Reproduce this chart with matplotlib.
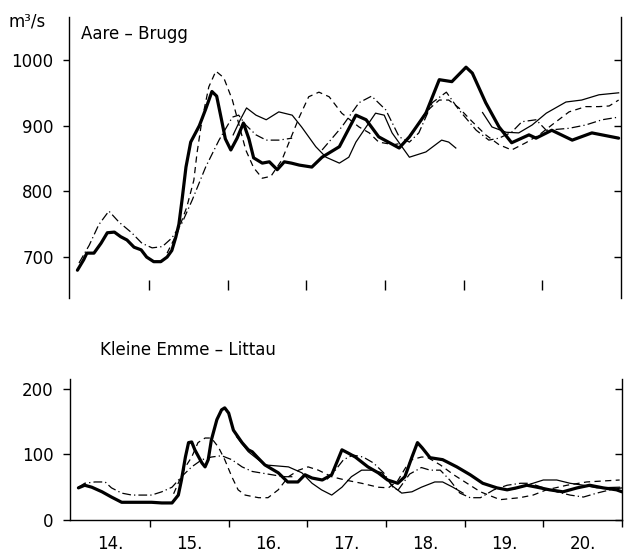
import numpy as np
import matplotlib
matplotlib.use("Agg")
import matplotlib.pyplot as plt

# ---- Aare - Brugg (m3/s), day of month ----
aare_obs_d = [14.09, 14.17, 14.21, 14.30, 14.39, 14.47, 14.56, 14.64, 14.72, 14.81, 14.90, 14.97,
              15.06, 15.15, 15.23, 15.29, 15.34, 15.38, 15.42, 15.47, 15.53, 15.64, 15.72, 15.80,
              15.86, 15.92, 15.97, 16.04, 16.12, 16.20, 16.27, 16.33, 16.44, 16.53, 16.63, 16.72,
              16.81, 16.91, 17.07, 17.20, 17.42, 17.63, 17.76, 17.92, 18.18, 18.31, 18.52, 18.69,
              18.85, 19.03, 19.11, 19.28, 19.45, 19.61, 19.83, 19.92, 20.12, 20.38, 20.63, 20.97]
aare_obs_q = [680, 696, 706, 706, 721, 737, 738, 731, 726, 715, 711, 700,
              693, 693, 700, 710, 730, 750, 787, 837, 875, 900, 925, 952,
              945, 910, 880, 863, 881, 904, 880, 851, 843, 845, 833, 845,
              843, 840, 837, 852, 868, 916, 909, 883, 866, 883, 919, 970,
              967, 989, 980, 935, 898, 874, 886, 881, 893, 878, 889, 881]

aare_thin_d = [16.07, 16.16, 16.24, 16.36, 16.49, 16.65, 16.82, 16.94, 17.12, 17.25, 17.42, 17.54,
               17.63, 17.76, 17.88, 17.99, 18.09, 18.31, 18.52, 18.72, 18.81, 18.90,
               np.nan,
               19.24, 19.36, 19.54, 19.70, 19.87, 20.05, 20.30, 20.50, 20.72, 20.97]
aare_thin_q = [886, 909, 927, 916, 909, 921, 916, 898, 868, 852, 843, 852,
               875, 898, 919, 916, 889, 852, 860, 878, 875, 866,
               np.nan,
               920, 898, 890, 889, 901, 919, 936, 939, 947, 950]

aare_dash_d = [15.23, 15.36, 15.48, 15.57, 15.61, 15.66, 15.70, 15.76, 15.85, 15.95, 16.06, 16.23,
               16.33, 16.44, 16.55, 16.69, 16.91, 17.03, 17.16, 17.29, 17.45, 17.67, 17.80, 17.92,
               18.11, 18.24, 18.37, 18.52, 18.69, 18.81, 18.94, 19.11, 19.28, 19.45, 19.61, 19.79,
               19.96, 20.12, 20.34, 20.55, 20.72, 20.85, 20.97]
aare_dash_q = [706, 737, 776, 817, 858, 898, 924, 959, 983, 973, 939, 863,
               836, 820, 823, 848, 913, 944, 951, 944, 919, 898, 889, 875,
               871, 874, 893, 921, 939, 939, 927, 906, 886, 871, 863, 874,
               886, 901, 921, 929, 929, 930, 939]

aare_dd_d = [14.11, 14.24, 14.36, 14.49, 14.62, 14.78, 14.91, 15.04, 15.17, 15.29, 15.42, 15.55,
             15.72, 15.89, 16.06, 16.14, 16.23, 16.36, 16.49, 16.65, 16.82,
             np.nan,
             17.20, 17.45, 17.67, 17.83, 18.01, 18.18, 18.31, 18.43, 18.60, 18.78, 18.94, 19.16,
             19.32, 19.45, 19.61, 19.74, 19.92, 20.05, 20.34, 20.55, 20.76, 20.97]
aare_dd_q = [691, 718, 749, 770, 753, 737, 721, 714, 716, 729, 752, 787,
             837, 878, 913, 916, 901, 886, 878, 878, 881,
             np.nan,
             863, 898, 935, 945, 924, 883, 875, 889, 935, 951, 924, 893,
             878, 881, 890, 906, 909, 893, 896, 901, 909, 913]

# ---- Kleine Emme - Littau (m3/s) ----
emme_obs_d = [14.09, 14.17, 14.26, 14.39, 14.51, 14.64, 14.77, 14.89, 15.02, 15.15, 15.28, 15.36,
              15.40, 15.45, 15.49, 15.53, 15.57, 15.66, 15.70, 15.74, 15.78, 15.85, 15.91, 15.95,
              16.00, 16.06, 16.17, 16.25, 16.30, 16.37, 16.46, 16.63, 16.75, 16.88, 16.97, 17.06,
              17.19, 17.31, 17.44, 17.52, 17.61, 17.77, 17.90, 18.02, 18.15, 18.24, 18.33, 18.40,
              18.46, 18.56, 18.72, 18.90, 19.07, 19.23, 19.41, 19.54, 19.66, 19.79, 19.92, 20.08,
              20.25, 20.43, 20.59, 20.76, 20.93, 21.00]
emme_obs_q = [49, 53, 50, 43, 35, 27, 27, 27, 27, 26, 26, 38,
              61, 96, 118, 119, 107, 87, 81, 92, 122, 153, 168, 171,
              163, 137, 118, 107, 104, 95, 84, 72, 58, 58, 69, 64,
              61, 69, 107, 102, 96, 81, 72, 61, 56, 66, 96, 118,
              110, 95, 92, 81, 69, 56, 49, 46, 49, 53, 50, 46,
              43, 49, 53, 49, 46, 43]

emme_thin_d = [16.10, 16.25, 16.46, 16.76, 16.93, 17.06, 17.18, 17.31, 17.44, 17.56, 17.69, 17.82,
               17.95, 18.07, 18.20, 18.33, 18.45, 18.62, 18.72, 18.85, 18.98,
               np.nan,
               19.62, 19.79, 20.00, 20.17, 20.34, 20.51, 20.68, 20.97]
emme_thin_q = [127, 104, 84, 81, 72, 56, 46, 38, 50, 66, 76, 76,
               72, 53, 41, 43, 50, 58, 58, 50, 41,
               np.nan,
               47, 53, 61, 61, 56, 53, 49, 50]

emme_dash_d = [15.30, 15.45, 15.53, 15.61, 15.70, 15.78, 15.87, 15.95, 16.04, 16.12, 16.21, 16.38,
               16.50, 16.63, 16.76, 16.89, 17.01, 17.14, 17.31, 17.48, 17.69, 17.90, 18.03, 18.15,
               18.25, 18.33, 18.45, 18.52, 18.69, 18.86, 19.03, 19.20, 19.45, 19.70, 19.87, 20.04,
               20.30, 20.55, 20.97]
emme_dash_q = [40, 81, 96, 118, 125, 125, 111, 92, 66, 46, 38, 34,
               34, 46, 66, 76, 81, 76, 66, 61, 56, 50, 49, 60,
               80, 92, 96, 96, 84, 69, 56, 43, 31, 34, 38, 46,
               53, 58, 61]

emme_dd_d = [14.09, 14.17, 14.30, 14.43, 14.51, 14.64, 14.77, 14.89, 15.02, 15.15, 15.28, 15.40,
             15.53, 15.66, 15.78, 15.91, 16.04, 16.17, 16.30, 16.45, 16.60, 16.72, 16.85,
             np.nan,
             17.25, 17.33, 17.46, 17.58, 17.71, 17.84, 17.97, 18.09, 18.18,
             np.nan,
             18.15, 18.30, 18.45, 18.56, 18.69, 18.81, 18.94, 19.07, 19.20, 19.37, 19.54, 19.71,
             19.83, 19.98, 20.17, 20.34, 20.51, 20.68, 20.85, 21.00]
emme_dd_q = [50, 56, 58, 58, 49, 41, 38, 38, 38, 43, 50, 66,
             81, 92, 96, 98, 92, 81, 74, 71, 68, 66, 66,
             np.nan,
             62, 72, 92, 99, 96, 87, 72, 50, 43,
             np.nan,
             45, 70, 80, 76, 76, 61, 41, 34, 34, 46, 53, 56,
             56, 50, 43, 38, 35, 41, 46, 49]

day_labels = ["14.", "15.", "16.", "17.", "18.", "19.", "20."]

THICK = dict(color="black", lw=2.3, solid_capstyle="round", solid_joinstyle="round")
THIN = dict(color="black", lw=0.9)
DASH = dict(color="black", lw=0.9, linestyle=(0, (5, 3.5)))
DDOT = dict(color="black", lw=0.9, linestyle=(0, (7, 2.5, 1, 2.5)))

plt.rcParams["font.family"] = "DejaVu Sans"
plt.rcParams["font.size"] = 12

W, H = 624, 556
fig = plt.figure(figsize=(W / 100, H / 100), dpi=100)
ax1 = fig.add_axes([69 / W, 1 - 298 / H, (621 - 69) / W, (298 - 17) / H])
ax2 = fig.add_axes([70 / W, 1 - 520 / H, (622 - 70) / W, (520 - 379) / H])

xlim = (13.983, 21.0)

# top panel
ax1.plot(aare_obs_d, aare_obs_q, **THICK)
ax1.plot(aare_thin_d, aare_thin_q, **THIN)
ax1.plot(aare_dash_d, aare_dash_q, **DASH)
ax1.plot(aare_dd_d, aare_dd_q, **DDOT)
ax1.set_xlim(*xlim)
ax1.set_ylim(637.7, 1065.4)
ax1.set_yticks([700, 800, 900, 1000])
ax1.spines["top"].set_visible(False)
ax1.spines["bottom"].set_position(("data", 657))
ax1.spines["bottom"].set_visible(False)
ax1.set_xticks([15, 16, 17, 18, 19, 20])
ax1.set_xticklabels([])
ax1.tick_params(axis="x", direction="inout", length=7, width=1)
ax1.tick_params(axis="y", which="both", direction="out", length=4, width=1, pad=7, right=True)
for t in ax1.yaxis.get_major_ticks():
    t.tick2line.set_marker(matplotlib.lines.TICKLEFT)
    t.tick2line.set_markersize(5)
ax1.text(14.14, 1040, "Aare – Brugg", fontsize=12, va="center", ha="left")
for s in ["left", "right"]:
    ax1.spines[s].set_linewidth(1)

# bottom panel
ax2.plot(emme_obs_d, emme_obs_q, **THICK)
ax2.plot(emme_thin_d, emme_thin_q, **THIN)
ax2.plot(emme_dash_d, emme_dash_q, **DASH)
ax2.plot(emme_dd_d, emme_dd_q, **DDOT)
ax2.set_xlim(*xlim)
ax2.set_ylim(0, 215)
ax2.set_yticks([0, 100, 200])
ax2.spines["top"].set_visible(False)
ax2.set_xticks([15, 16, 17, 18, 19, 20, 21])
ax2.set_xticklabels([])
ax2.set_xticks(np.arange(14.5, 21, 1.0), minor=True)
ax2.set_xticklabels(day_labels, minor=True)
ax2.tick_params(axis="x", which="major", direction="out", length=5, width=1)
ax2.tick_params(axis="x", which="minor", length=0, pad=11)
ax2.tick_params(axis="y", direction="out", length=5, width=1, pad=7)
for t in ax2.yaxis.get_major_ticks():
    t.tick2line.set_visible(True)
    t.tick2line.set_marker(matplotlib.lines.TICKLEFT)
    t.tick2line.set_markersize(5)
for s in ["left", "right", "bottom"]:
    ax2.spines[s].set_linewidth(1)

fig.text(8 / W, 1 - 22 / H, "m³/s", fontsize=12, ha="left", va="center")
fig.text(100 / W, 1 - 350 / H, "Kleine Emme – Littau", fontsize=12, ha="left", va="center")

fig.savefig("out.png", dpi=100)
